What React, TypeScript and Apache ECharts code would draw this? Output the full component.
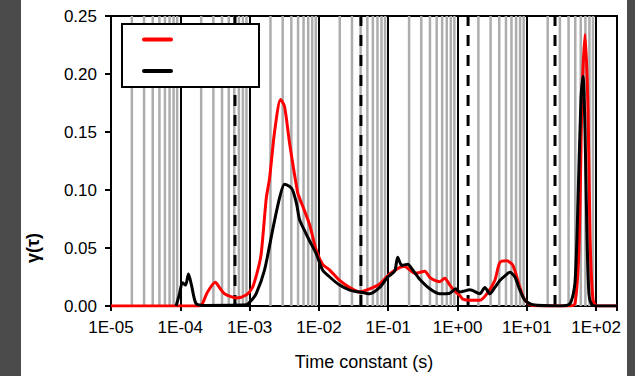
import React, { useEffect, useRef } from "react";
import * as echarts from "echarts";

// Time constants (s) and distribution values
const redTau = [1e-5, 1.89e-4, 2.08e-4, 2.47e-4, 3.19e-4, 3.67e-4, 4.34e-4, 6.4e-4, 8.93e-4, 1.1e-3, 1.3e-3, 1.47e-3, 1.74e-3, 1.94e-3, 2.29e-3, 2.8e-3, 3.19e-3, 3.78e-3, 4.92e-3, 5.26e-3, 6.21e-3, 7.35e-3, 9.16e-3, 1.13e-2, 1.43e-2, 1.99e-2, 2.78e-2, 3.87e-2, 5.41e-2, 7.53e-2, 0.105, 0.147, 0.173, 0.205, 0.242, 0.285, 0.337, 0.398, 0.47, 0.555, 0.655, 0.774, 0.944, 1.08, 1.19, 1.51, 2.1, 2.65, 3.45, 4.08, 5.11, 6.3, 7.94, 9.4, 12.2, 42.0, 49.5, 56.6, 62.5, 69.2, 76.4, 81.6, 90.2, 103, 200];
const redVal = [0, 0, 0.002, 0.012, 0.0205, 0.016, 0.0105, 0.007, 0.0094, 0.016, 0.03, 0.045, 0.093, 0.11, 0.15, 0.178, 0.172, 0.14, 0.098, 0.093, 0.082, 0.07, 0.048, 0.036, 0.031, 0.022, 0.016, 0.012, 0.0148, 0.019, 0.0276, 0.0333, 0.034, 0.031, 0.028, 0.029, 0.03, 0.0247, 0.022, 0.021, 0.024, 0.018, 0.012, 0.009, 0.006, 0.005, 0.005, 0.0105, 0.022, 0.0375, 0.039, 0.035, 0.016, 0.005, 0.0005, 0, 0.002, 0.05, 0.18, 0.234, 0.17, 0.06, 0.005, 0, 0];

const blackTau = [8.69e-5, 9.7e-5, 1.07e-4, 1.19e-4, 1.31e-4, 1.45e-4, 1.69e-4, 2.23e-4, 8.93e-4, 1.03e-3, 1.24e-3, 1.64e-3, 2.14e-3, 2.7e-3, 3.19e-3, 3.78e-3, 4.17e-3, 4.76e-3, 5.26e-3, 6.21e-3, 7.35e-3, 9.16e-3, 1.13e-2, 1.43e-2, 1.99e-2, 2.78e-2, 3.87e-2, 5.41e-2, 7.53e-2, 9.86e-2, 0.124, 0.137, 0.157, 0.191, 0.226, 0.285, 0.398, 0.555, 0.774, 0.944, 1.08, 1.51, 2.1, 2.48, 2.93, 3.45, 4.08, 4.83, 5.7, 6.73, 7.94, 9.4, 12.2, 30.1, 42.0, 49.5, 54.7, 60.5, 64.7, 69.2, 73.8, 78.9, 87.3, 103, 200];
const blackVal = [0, 0.01, 0.02, 0.018, 0.0276, 0.018, 0.002, 0.0005, 0.001, 0.004, 0.0105, 0.031, 0.065, 0.093, 0.105, 0.103, 0.1, 0.088, 0.0745, 0.065, 0.056, 0.045, 0.031, 0.025, 0.018, 0.0137, 0.012, 0.0105, 0.016, 0.025, 0.03, 0.042, 0.035, 0.036, 0.031, 0.023, 0.0148, 0.0105, 0.011, 0.0148, 0.012, 0.014, 0.0105, 0.016, 0.0105, 0.016, 0.022, 0.026, 0.029, 0.025, 0.0137, 0.005, 0.001, 0, 0.002, 0.02, 0.09, 0.18, 0.198, 0.15, 0.06, 0.01, 0.001, 0, 0];

// Dashed vertical markers (s)
const dashedTau = [6.15e-4, 4.04e-2, 1.42, 25.5];
// Decades and minor multipliers for the grey grid
const decades = [-5, -4, -3, -2, -1, 0, 1];
const minorMultipliers = [2, 3, 4, 5, 6, 7, 8, 9];
const yTicks = [0, 0.05, 0.1, 0.15, 0.2, 0.25];

const xName = "Time constant (s)";
const yName = "γ(τ)";
const seriesNames = ["Series 1", "Series 2"];

const FONT = "Liberation Sans, Arial, sans-serif";

export default function App() {
  const ref = useRef<HTMLDivElement>(null);
  useEffect(() => {
    document.body.style.margin = "0";
    if (!ref.current) return;
    const chart = echarts.init(ref.current, undefined, { renderer: "svg" });

    const yMin = yTicks[0];
    const yMax = yTicks[yTicks.length - 1];
    const verticals = (xs: number[]) => {
      const out: any[] = [];
      xs.forEach((x) => {
        out.push([x, yMin], [x, yMax], [x, "-"]);
      });
      return out;
    };
    const minorXs: number[] = [];
    decades.forEach((d) => minorMultipliers.forEach((m) => minorXs.push(m * Math.pow(10, d))));

    const fmtX = (v: number) => {
      const l = Math.log10(v);
      const e = Math.round(l);
      if (Math.abs(l - e) > 1e-6) return "";
      return "1E" + (e < 0 ? "-" : "+") + String(Math.abs(e)).padStart(2, "0");
    };

    chart.setOption({
      animation: false,
      backgroundColor: "#fff",
      grid: { left: 111, right: 18, top: 16, bottom: 67, show: true, borderColor: "#000", borderWidth: 2, backgroundColor: "transparent" },
      xAxis: {
        type: "log",
        logBase: 10,
        min: 1e-5,
        max: 200,
        interval: 1,
        name: xName,
        nameLocation: "middle",
        nameGap: 47,
        nameTextStyle: { fontFamily: FONT, fontSize: 18, color: "#000" },
        axisLine: { lineStyle: { color: "#000", width: 2 } },
        axisTick: { length: 5, lineStyle: { color: "#000", width: 2 } },
        axisLabel: { formatter: fmtX, fontFamily: FONT, fontSize: 17, color: "#000", margin: 13 },
        splitLine: { show: true, lineStyle: { color: "#000", width: 2 } },
        minorTick: { show: false },
      },
      yAxis: {
        type: "value",
        min: yMin,
        max: yMax,
        interval: 0.05,
        axisLine: { show: true, lineStyle: { color: "#000", width: 2 } },
        axisTick: { show: true, length: 6, lineStyle: { color: "#000", width: 2 } },
        axisLabel: { formatter: (v: number) => v.toFixed(2), fontFamily: FONT, fontSize: 17, color: "#000", margin: 14 },
        splitLine: { show: false },
      },
      series: [
        {
          type: "line",
          z: 1,
          silent: true,
          showSymbol: false,
          connectNulls: false,
          data: verticals(minorXs),
          lineStyle: { color: "#adadad", width: 2.5 },
        },
        {
          type: "line",
          z: 2,
          silent: true,
          showSymbol: false,
          connectNulls: false,
          data: verticals(dashedTau),
          lineStyle: { color: "#000", width: 3, type: [11, 9] },
        },
        {
          name: seriesNames[0],
          type: "line",
          z: 3,
          data: redTau.map((t, i) => [t, redVal[i]]),
          showSymbol: false,
          smooth: 0.25,
          lineStyle: { color: "#ff0000", width: 3 },
        },
        {
          name: seriesNames[1],
          type: "line",
          z: 4,
          data: blackTau.map((t, i) => [t, blackVal[i]]),
          showSymbol: false,
          smooth: 0.25,
          lineStyle: { color: "#000", width: 3 },
        },
      ],
      graphic: [
        { type: "rect", z: 100, shape: { x: 0, y: 0, width: 21, height: 376 }, style: { fill: "#4b4b4b" } },
        { type: "rect", z: 100, shape: { x: 627, y: 0, width: 8, height: 376 }, style: { fill: "#4b4b4b" } },
        { type: "rect", z: 100, shape: { x: 122, y: 24, width: 137, height: 63 }, style: { fill: "#fff", stroke: "#000", lineWidth: 2 } },
        { type: "line", z: 101, shape: { x1: 144, y1: 39.5, x2: 171, y2: 39.5 }, style: { stroke: "#ff0000", lineWidth: 4, lineCap: "round" } },
        { type: "line", z: 101, shape: { x1: 144, y1: 71, x2: 171, y2: 71 }, style: { stroke: "#000", lineWidth: 4, lineCap: "round" } },
        {
          type: "text",
          z: 100,
          x: 33,
          y: 248,
          rotation: Math.PI / 2,
          style: { text: yName, fontFamily: FONT, fontSize: 18, fontWeight: "bold", fill: "#000", align: "center", verticalAlign: "middle" },
        },
      ],
    });
    return () => chart.dispose();
  }, []);
  return <div ref={ref} style={{ width: 635, height: 376 }} />;
}
